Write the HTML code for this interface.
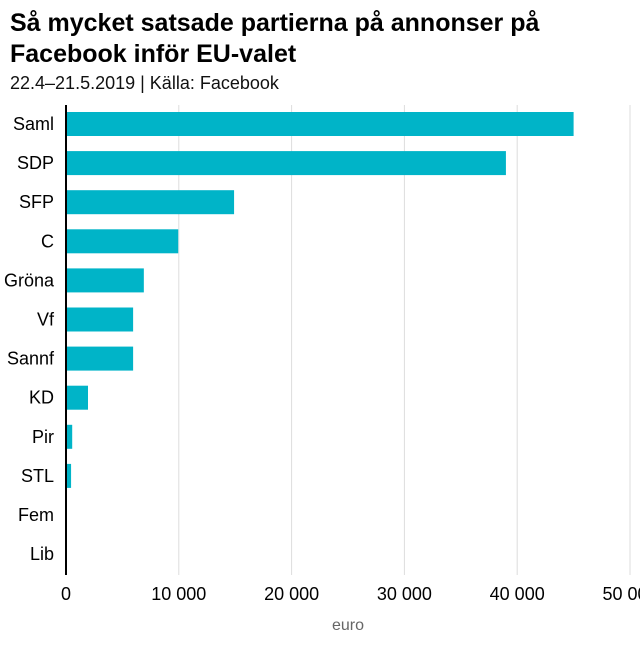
<!DOCTYPE html>
<html><head><meta charset="utf-8"><style>
body{margin:0;background:#fff;font-family:"Liberation Sans",sans-serif;}
svg text{font-family:"Liberation Sans",sans-serif;}
</style></head><body>
<svg width="640" height="640">
<text x="10" y="31" font-size="25" font-weight="bold" fill="#000">Så mycket satsade partierna på annonser på</text>
<text x="10" y="62" font-size="25" font-weight="bold" fill="#000">Facebook inför EU-valet</text>
<text x="10" y="89" font-size="18" fill="#111">22.4–21.5.2019 | Källa: Facebook</text>
<g id="grid"></g><g id="bars"></g><g id="labels"></g>
<line x1="66" y1="105" x2="66" y2="575" stroke="#000" stroke-width="2"/>
<text x="348" y="630" font-size="16" fill="#666" text-anchor="middle">euro</text>
</svg>
<script>
const categories=["Saml","SDP","SFP","C","Gröna","Vf","Sannf","KD","Pir","STL","Fem","Lib"];
const values=[45000,39000,14900,9950,6900,5950,5950,1950,550,450,0,0];
const ticks=[0,10000,20000,30000,40000,50000];
const tickLabels=["0","10 000","20 000","30 000","40 000","50 000"];
const NS="http://www.w3.org/2000/svg";
const x=v=>66+v*(564/50000);
const yc=i=>124+i*39.1;
const g=document.getElementById("grid"),b=document.getElementById("bars"),l=document.getElementById("labels");
function mk(tag,at,parent){const e=document.createElementNS(NS,tag);for(const k in at)e.setAttribute(k,at[k]);parent.appendChild(e);return e;}
ticks.forEach((t,i)=>{
 if(t>0){const ln=mk("line",{x1:x(t),x2:x(t),y1:105,y2:575,stroke:"#ddd","stroke-width":1},g);
 
 }
 const tx=mk("text",{x:x(t),y:600,"font-size":18,"text-anchor":"middle",fill:"#000"},l);
 tx.textContent=tickLabels[i];
 
 
});
categories.forEach((c,i)=>{
 const r=mk("rect",{x:66,y:yc(i)-12,width:Math.max(0,x(values[i])-66),height:24,fill:"#00b4c8"},b);
 
 
 const tx=mk("text",{x:54,y:yc(i)+6,"font-size":18,"text-anchor":"end",fill:"#000"},l);
 tx.textContent=c;
 
 
});
</script>
</body></html>
